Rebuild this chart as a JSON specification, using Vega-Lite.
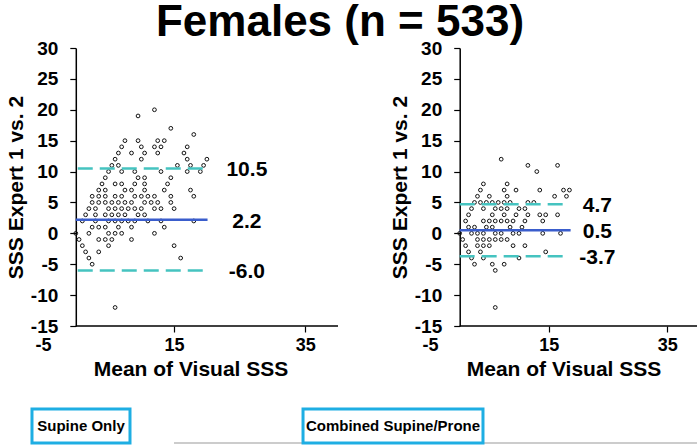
{
  "$schema": "https://vega.github.io/schema/vega-lite/v6.json",
  "width": 654,
  "height": 278,
  "autosize": {"type": "none"},
  "padding": {"left": 43, "top": 48, "right": 0, "bottom": 119},
  "background": "white",
  "config": {
    "view": {"stroke": null},
    "font": "Liberation Sans",
    "axis": {
      "grid": false,
      "domainColor": "black",
      "domainWidth": 1.5,
      "tickColor": "black",
      "tickWidth": 1.2,
      "tickSize": 6,
      "labelColor": "black",
      "labelFont": "Liberation Sans",
      "labelFontWeight": "bold",
      "labelFontSize": 19,
      "labelOverlap": false,
      "labelExpr": "toString(datum.value)",
      "titleColor": "black",
      "titleFont": "Liberation Sans",
      "titleFontWeight": "bold",
      "titleFontSize": 21
    }
  },
  "title": {
    "text": "Females (n = 533)",
    "fontSize": 44,
    "font": "Liberation Sans",
    "fontWeight": "bold",
    "color": "black",
    "anchor": "middle",
    "frame": "group",
    "dx": -30,
    "offset": -6
  },
  "datasets": {
    "left": [
      {"mean": 12, "diff": 20}, {"mean": 9.5, "diff": 19}, {"mean": 14.5, "diff": 17}, {"mean": 18, "diff": 16},
      {"mean": 7.5, "diff": 15}, {"mean": 9.5, "diff": 15}, {"mean": 12.5, "diff": 15}, {"mean": 13.5, "diff": 15},
      {"mean": 7, "diff": 14}, {"mean": 10, "diff": 14}, {"mean": 12, "diff": 14}, {"mean": 13, "diff": 14}, {"mean": 17, "diff": 14},
      {"mean": 6.5, "diff": 13}, {"mean": 8.5, "diff": 13}, {"mean": 10.5, "diff": 13}, {"mean": 12.5, "diff": 13}, {"mean": 16.5, "diff": 13},
      {"mean": 6, "diff": 12}, {"mean": 10, "diff": 12}, {"mean": 17, "diff": 12}, {"mean": 20, "diff": 12},
      {"mean": 5.5, "diff": 11}, {"mean": 6.5, "diff": 11}, {"mean": 15.5, "diff": 11}, {"mean": 17.5, "diff": 11}, {"mean": 19.5, "diff": 11},
      {"mean": 5, "diff": 10}, {"mean": 7, "diff": 10}, {"mean": 9, "diff": 10}, {"mean": 13, "diff": 10}, {"mean": 17, "diff": 10}, {"mean": 19, "diff": 10},
      {"mean": 4.5, "diff": 9}, {"mean": 9.5, "diff": 9}, {"mean": 10.5, "diff": 9}, {"mean": 14.5, "diff": 9},
      {"mean": 4, "diff": 8}, {"mean": 6, "diff": 8}, {"mean": 7, "diff": 8}, {"mean": 9, "diff": 8}, {"mean": 10.5, "diff": 8}, {"mean": 14, "diff": 8},
      {"mean": 3.5, "diff": 7}, {"mean": 4.5, "diff": 7}, {"mean": 7.5, "diff": 7}, {"mean": 8.5, "diff": 7}, {"mean": 10.5, "diff": 7}, {"mean": 13.5, "diff": 7}, {"mean": 17.5, "diff": 7},
      {"mean": 2.5, "diff": 6}, {"mean": 3.5, "diff": 6}, {"mean": 4.5, "diff": 6}, {"mean": 6, "diff": 6}, {"mean": 7, "diff": 6}, {"mean": 9, "diff": 6}, {"mean": 10, "diff": 6}, {"mean": 11, "diff": 6}, {"mean": 12, "diff": 6}, {"mean": 14.5, "diff": 6}, {"mean": 18, "diff": 6},
      {"mean": 2.5, "diff": 5}, {"mean": 3.5, "diff": 5}, {"mean": 4.5, "diff": 5}, {"mean": 5.5, "diff": 5}, {"mean": 6.5, "diff": 5}, {"mean": 7.5, "diff": 5}, {"mean": 8.5, "diff": 5}, {"mean": 10.5, "diff": 5}, {"mean": 11.5, "diff": 5}, {"mean": 12.5, "diff": 5}, {"mean": 14.5, "diff": 5},
      {"mean": 2, "diff": 4}, {"mean": 3, "diff": 4}, {"mean": 5, "diff": 4}, {"mean": 6, "diff": 4}, {"mean": 7, "diff": 4}, {"mean": 8, "diff": 4}, {"mean": 9, "diff": 4}, {"mean": 10, "diff": 4}, {"mean": 12, "diff": 4}, {"mean": 13, "diff": 4}, {"mean": 15, "diff": 4},
      {"mean": 1.5, "diff": 3}, {"mean": 3, "diff": 3}, {"mean": 4.5, "diff": 3}, {"mean": 5.5, "diff": 3}, {"mean": 6.5, "diff": 3}, {"mean": 7.5, "diff": 3}, {"mean": 9.5, "diff": 3}, {"mean": 10.5, "diff": 3},
      {"mean": 1, "diff": 2}, {"mean": 3, "diff": 2}, {"mean": 5, "diff": 2}, {"mean": 6, "diff": 2}, {"mean": 7, "diff": 2}, {"mean": 8, "diff": 2}, {"mean": 9, "diff": 2}, {"mean": 11, "diff": 2}, {"mean": 13, "diff": 2}, {"mean": 18, "diff": 2},
      {"mean": 2.5, "diff": 1}, {"mean": 3.5, "diff": 1}, {"mean": 4.5, "diff": 1}, {"mean": 6.5, "diff": 1}, {"mean": 8.5, "diff": 1}, {"mean": 13.5, "diff": 1},
      {"mean": 0, "diff": 0}, {"mean": 2, "diff": 0}, {"mean": 5, "diff": 0}, {"mean": 6, "diff": 0}, {"mean": 7, "diff": 0}, {"mean": 12, "diff": 0},
      {"mean": 0.5, "diff": -1}, {"mean": 3.5, "diff": -1}, {"mean": 4.5, "diff": -1}, {"mean": 5.5, "diff": -1}, {"mean": 8.5, "diff": -1},
      {"mean": 1, "diff": -2}, {"mean": 5, "diff": -2}, {"mean": 15, "diff": -2},
      {"mean": 1.5, "diff": -3}, {"mean": 3.5, "diff": -3},
      {"mean": 2, "diff": -4}, {"mean": 16, "diff": -4},
      {"mean": 2.5, "diff": -5},
      {"mean": 6, "diff": -12}
    ],
    "right": [
      {"mean": 7, "diff": 12},
      {"mean": 11.5, "diff": 11}, {"mean": 16.5, "diff": 11},
      {"mean": 13, "diff": 10},
      {"mean": 4, "diff": 8}, {"mean": 8, "diff": 8},
      {"mean": 3.5, "diff": 7}, {"mean": 7.5, "diff": 7}, {"mean": 9.5, "diff": 7}, {"mean": 13.5, "diff": 7}, {"mean": 17.5, "diff": 7}, {"mean": 18.5, "diff": 7},
      {"mean": 3, "diff": 6}, {"mean": 5, "diff": 6}, {"mean": 8, "diff": 6}, {"mean": 16, "diff": 6}, {"mean": 18, "diff": 6},
      {"mean": 2.5, "diff": 5}, {"mean": 3.5, "diff": 5}, {"mean": 4.5, "diff": 5}, {"mean": 5.5, "diff": 5}, {"mean": 6.5, "diff": 5}, {"mean": 7.5, "diff": 5}, {"mean": 8.5, "diff": 5}, {"mean": 11.5, "diff": 5}, {"mean": 12.5, "diff": 5},
      {"mean": 2, "diff": 4}, {"mean": 4, "diff": 4}, {"mean": 6, "diff": 4}, {"mean": 7, "diff": 4}, {"mean": 8, "diff": 4}, {"mean": 10, "diff": 4}, {"mean": 11, "diff": 4},
      {"mean": 1.5, "diff": 3}, {"mean": 5.5, "diff": 3}, {"mean": 7.5, "diff": 3}, {"mean": 9.5, "diff": 3}, {"mean": 11.5, "diff": 3}, {"mean": 13.5, "diff": 3}, {"mean": 14.5, "diff": 3}, {"mean": 16.5, "diff": 3},
      {"mean": 1, "diff": 2}, {"mean": 4, "diff": 2}, {"mean": 5, "diff": 2}, {"mean": 6, "diff": 2}, {"mean": 7, "diff": 2}, {"mean": 8, "diff": 2}, {"mean": 9, "diff": 2}, {"mean": 11, "diff": 2}, {"mean": 14, "diff": 2},
      {"mean": 1.5, "diff": 1}, {"mean": 2.5, "diff": 1}, {"mean": 4.5, "diff": 1}, {"mean": 5.5, "diff": 1}, {"mean": 8.5, "diff": 1}, {"mean": 10.5, "diff": 1},
      {"mean": 0, "diff": 0}, {"mean": 2, "diff": 0}, {"mean": 3, "diff": 0}, {"mean": 4, "diff": 0}, {"mean": 6, "diff": 0}, {"mean": 7, "diff": 0}, {"mean": 9, "diff": 0}, {"mean": 10, "diff": 0}, {"mean": 14, "diff": 0}, {"mean": 17, "diff": 0},
      {"mean": 0.5, "diff": -1}, {"mean": 3, "diff": -1}, {"mean": 4, "diff": -1}, {"mean": 5, "diff": -1}, {"mean": 6, "diff": -1}, {"mean": 7, "diff": -1}, {"mean": 8, "diff": -1},
      {"mean": 1, "diff": -2}, {"mean": 3, "diff": -2}, {"mean": 4, "diff": -2}, {"mean": 5, "diff": -2}, {"mean": 9, "diff": -2}, {"mean": 11, "diff": -2},
      {"mean": 1.5, "diff": -3}, {"mean": 3.5, "diff": -3}, {"mean": 14.5, "diff": -3},
      {"mean": 2, "diff": -4}, {"mean": 4, "diff": -4}, {"mean": 10, "diff": -4},
      {"mean": 2.5, "diff": -5}, {"mean": 5.5, "diff": -5}, {"mean": 7.5, "diff": -5},
      {"mean": 6, "diff": -6},
      {"mean": 6, "diff": -12}
    ],
    "leftStats": [
      {"stat": "Mean", "value": 2.2, "label": "2.2"},
      {"stat": "LoA", "value": 10.5, "label": "10.5"},
      {"stat": "LoA", "value": -6.0, "label": "-6.0"}
    ],
    "rightStats": [
      {"stat": "Mean", "value": 0.5, "label": "0.5"},
      {"stat": "LoA", "value": 4.7, "label": "4.7"},
      {"stat": "LoA", "value": -3.7, "label": "-3.7"}
    ],
    "leftPanel": [{"panel": "Supine Only"}],
    "rightPanel": [{"panel": "Combined Supine/Prone"}]
  },
  "layer": [
    {
      "layer": [
        {
          "data": {"name": "leftPanel"},
          "mark": {"type": "rule", "stroke": "#bbbbbb", "strokeWidth": 1.5},
          "encoding": {
            "x": {"datum": 14.98, "type": "quantitative"},
            "x2": {"datum": 94.76},
            "y": {"datum": -33.94, "type": "quantitative"}
          }
        },
        {
          "data": {"name": "left"},
          "mark": {"type": "point", "shape": "circle", "filled": false, "stroke": "#111111", "strokeWidth": 1, "size": 14, "opacity": 1},
          "encoding": {
            "x": {
              "field": "mean", "type": "quantitative",
              "scale": {"domain": [-5, 40], "range": [0, 295], "nice": false, "zero": false},
              "axis": {
                "orient": "bottom", "values": [-5, 15, 35], "tickCount": 20, "title": "Mean of Visual SSS",
                "domain": false, "labelFlush": false, "labelFontSize": 18, "labelPadding": 4,
                "labelOverlap": false, "titlePadding": 4, "titleFontSize": 21,
                "tickOpacity": {"condition": {"test": "datum.value < 0", "value": 0}, "value": 1}
              }
            },
            "y": {
              "field": "diff", "type": "quantitative",
              "scale": {"domain": [-15, 30], "nice": false, "zero": false},
              "axis": {
                "orient": "left", "values": [-15, -10, -5, 0, 5, 10, 15, 20, 25, 30], "tickCount": 20,
                "labelOverlap": false, "labelBound": false,
                "title": "SSS Expert 1 vs. 2", "offset": -32.8, "labelPadding": 12, "titlePadding": 4
              }
            }
          }
        },
        {
          "data": {"name": "leftPanel"},
          "mark": {"type": "rule", "stroke": "black", "strokeWidth": 1.5},
          "encoding": {
            "x": {"datum": 0, "type": "quantitative"},
            "x2": {"datum": 40},
            "y": {"datum": -15, "type": "quantitative"}
          }
        },
        {
          "data": {"name": "leftStats"},
          "transform": [{"filter": "datum.stat == 'LoA'"}],
          "mark": {"type": "rule", "stroke": "#45c3c0", "strokeWidth": 2.5, "strokeDash": [15, 7]},
          "encoding": {
            "x": {"datum": 0.3, "type": "quantitative"},
            "x2": {"datum": 19.8},
            "y": {"field": "value", "type": "quantitative"}
          }
        },
        {
          "data": {"name": "leftStats"},
          "transform": [{"filter": "datum.stat == 'Mean'"}],
          "mark": {"type": "rule", "stroke": "#3a5dcc", "strokeWidth": 2.5},
          "encoding": {
            "x": {"datum": 0, "type": "quantitative"},
            "x2": {"datum": 20.1},
            "y": {"field": "value", "type": "quantitative"}
          }
        },
        {
          "data": {"name": "leftStats"},
          "mark": {"type": "text", "fontSize": 21, "fontWeight": "bold", "font": "Liberation Sans", "color": "black", "align": "center", "baseline": "middle", "dy": 2},
          "encoding": {
            "x": {"datum": 26.1, "type": "quantitative"},
            "y": {"field": "value", "type": "quantitative"},
            "text": {"field": "label"}
          }
        },
        {
          "data": {"name": "leftPanel"},
          "mark": {"type": "rect", "fill": "white", "stroke": "#1eaee3", "strokeWidth": 3},
          "encoding": {
            "x": {"datum": -6.68, "type": "quantitative"},
            "x2": {"datum": 8.27},
            "y": {"datum": -28.43, "type": "quantitative"},
            "y2": {"datum": -33.94}
          }
        },
        {
          "data": {"name": "leftPanel"},
          "mark": {"type": "text", "font": "Liberation Sans", "fontWeight": "bold", "fontSize": 15, "color": "black", "align": "center", "baseline": "middle"},
          "encoding": {
            "x": {"datum": 0.8, "type": "quantitative"},
            "y": {"datum": -31.18, "type": "quantitative"},
            "text": {"field": "panel"}
          }
        }
      ]
    },
    {
      "layer": [
        {
          "data": {"name": "right"},
          "mark": {"type": "point", "shape": "circle", "filled": false, "stroke": "#111111", "strokeWidth": 1, "size": 14, "opacity": 1},
          "encoding": {
            "x": {
              "field": "mean", "type": "quantitative",
              "scale": {"domain": [-5, 40], "range": [387, 654], "nice": false, "zero": false},
              "axis": {
                "orient": "bottom", "values": [-5, 15, 35], "tickCount": 20, "title": "Mean of Visual SSS",
                "domain": false, "labelFlush": false, "labelFontSize": 18, "labelPadding": 4,
                "labelOverlap": false, "titlePadding": 4, "titleFontSize": 21,
                "tickOpacity": {"condition": {"test": "datum.value < 0", "value": 0}, "value": 1}
              }
            },
            "y": {
              "field": "diff", "type": "quantitative",
              "scale": {"domain": [-15, 30], "nice": false, "zero": false},
              "axis": {
                "orient": "left", "values": [-15, -10, -5, 0, 5, 10, 15, 20, 25, 30], "tickCount": 20,
                "labelOverlap": false, "labelBound": false,
                "title": "SSS Expert 1 vs. 2", "offset": -416.7, "labelPadding": 12, "titlePadding": 4
              }
            }
          }
        },
        {
          "data": {"name": "rightPanel"},
          "mark": {"type": "rule", "stroke": "black", "strokeWidth": 1.5},
          "encoding": {
            "x": {"datum": 0, "type": "quantitative"},
            "x2": {"datum": 40},
            "y": {"datum": -15, "type": "quantitative"}
          }
        },
        {
          "data": {"name": "rightStats"},
          "transform": [{"filter": "datum.stat == 'LoA'"}],
          "mark": {"type": "rule", "stroke": "#45c3c0", "strokeWidth": 2.5, "strokeDash": [15, 7]},
          "encoding": {
            "x": {"datum": 0, "type": "quantitative"},
            "x2": {"datum": 18.2},
            "y": {"field": "value", "type": "quantitative"}
          }
        },
        {
          "data": {"name": "rightStats"},
          "transform": [{"filter": "datum.stat == 'Mean'"}],
          "mark": {"type": "rule", "stroke": "#3a5dcc", "strokeWidth": 2.5},
          "encoding": {
            "x": {"datum": 0, "type": "quantitative"},
            "x2": {"datum": 18.7},
            "y": {"field": "value", "type": "quantitative"}
          }
        },
        {
          "data": {"name": "rightStats"},
          "mark": {"type": "text", "fontSize": 21, "fontWeight": "bold", "font": "Liberation Sans", "color": "black", "align": "center", "baseline": "middle", "dy": 2},
          "encoding": {
            "x": {"datum": 23.2, "type": "quantitative"},
            "y": {"field": "value", "type": "quantitative"},
            "text": {"field": "label"}
          }
        },
        {
          "data": {"name": "rightPanel"},
          "mark": {"type": "rect", "fill": "white", "stroke": "#1eaee3", "strokeWidth": 3},
          "encoding": {
            "x": {"datum": -26.4, "type": "quantitative"},
            "x2": {"datum": 3.93},
            "y": {"datum": -28.43, "type": "quantitative"},
            "y2": {"datum": -33.94}
          }
        },
        {
          "data": {"name": "rightPanel"},
          "mark": {"type": "text", "font": "Liberation Sans", "fontWeight": "bold", "fontSize": 15, "color": "black", "align": "center", "baseline": "middle"},
          "encoding": {
            "x": {"datum": -11.24, "type": "quantitative"},
            "y": {"datum": -31.18, "type": "quantitative"},
            "text": {"field": "panel"}
          }
        }
      ]
    }
  ],
  "resolve": {
    "scale": {"x": "independent", "y": "independent"},
    "axis": {"x": "independent", "y": "independent"}
  }
}
